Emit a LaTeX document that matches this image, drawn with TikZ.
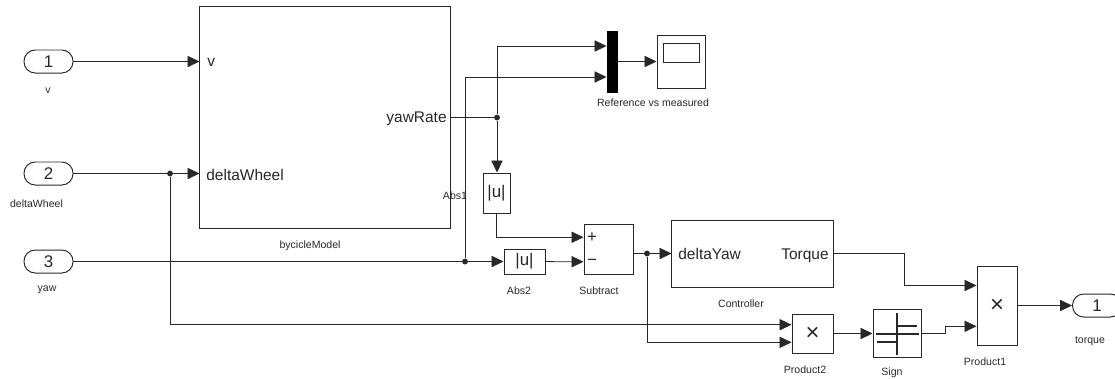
\documentclass[tikz,border=0pt]{standalone}
\usepackage{fontspec}
\setmainfont{Liberation Sans}
\usetikzlibrary{arrows.meta,positioning,calc}
\definecolor{ink}{RGB}{40,40,40}
\newcommand{\lblfont}{\fontsize{7.5}{9}\selectfont}
\newcommand{\portfont}{\fontsize{11}{12}\selectfont}
\newcommand{\absfont}{\fontsize{12}{12}\selectfont}
\newcommand{\mulfont}{\fontsize{17}{17}\selectfont}
\tikzset{
  flow/.style={>={Triangle[length=8.5pt,width=8pt]},line width=0.55pt,color=ink},
  blk/.style={draw=ink,line width=0.7pt,fill=white,inner sep=0pt},
  ioport/.style={draw=ink,line width=0.7pt,rounded corners=2.8mm,minimum width=1.225cm,
    minimum height=0.575cm,inner sep=0pt,font=\fontsize{12}{12}\selectfont},
  lbl/.style={font=\lblfont,inner sep=0pt},
  portlbl/.style={font=\portfont,inner sep=0pt},
  jct/.style={circle,fill=ink,inner sep=0pt,minimum size=4.2pt},
  icon/.style={line width=1pt,draw=ink},
}

\begin{document}
\begin{tikzpicture}[flow,x=0.025cm,y=-0.025cm]
\useasboundingbox (0,0) rectangle (1115,378);
% ports
\node[ioport] (in1) at (48.5,61.5) {1};
\node[ioport] (in2) at (48.5,173.5) {2};
\node[ioport] (in3) at (48.5,261.5) {3};
\node[ioport] (out1) at (1097,305.5) {1};
% blocks
\node[blk,minimum width=6.25cm,minimum height=5.525cm] (bm) at (325,117.5) {};
\node[blk,draw=black,fill=black,minimum width=0.25cm,minimum height=1.525cm] (mux) at (612,61.5) {};
\node[blk,minimum width=1.2cm,minimum height=1.325cm] (scope) at (681,61.5) {};
\node[blk,minimum width=0.9cm,minimum height=0.475cm] (scr) at (681,52.5) {};
\node[blk,minimum width=0.675cm,minimum height=1cm,font=\absfont] (abs1) at (496.5,193) {|u|};
\node[blk,minimum width=1.025cm,minimum height=0.625cm,font=\absfont] (abs2) at (524.5,261.5) {|u|};
\node[blk,minimum width=1.225cm,minimum height=1.25cm] (sub) at (608.5,249) {};
\node[blk,minimum width=4.025cm,minimum height=1.675cm] (ctrl) at (752.5,253.5) {};
\node[blk,minimum width=1.025cm,minimum height=0.975cm,font=\mulfont] (p2) at (812.5,333.5) {×};
\node[blk,minimum width=1.2cm,minimum height=1.2cm] (sign) at (897,333.5) {};
\node[blk,minimum width=1cm,minimum height=1.975cm,font=\mulfont] (p1) at (997,305.5) {×};
% port texts
\node[portlbl,anchor=base west] (t-v) at (207,66) {v};
\node[portlbl,anchor=base west] (t-dw) at (206,180) {deltaWheel};
\node[portlbl,anchor=base east] (t-yr) at (447,122) {yawRate};
\node[portlbl,anchor=base west] (t-dy) at (678,259) {deltaYaw};
\node[portlbl,anchor=base east] (t-tq) at (829,259) {Torque};
\node[inner sep=0pt,font=\fontsize{12}{12}\selectfont] (t-plus) at (592,237.5) {+};
\node[inner sep=0pt,font=\fontsize{12}{12}\selectfont] (t-minus) at (592,262) {−};
% block names
\foreach \n/\x/\y/\t in {l-in1/48/93/v, l-in2/36.5/207/deltaWheel, l-in3/47/291/yaw,
    l-bm/310/248/bycicleModel, l-scope/653/106/Reference vs measured, l-abs1/455/199/Abs1,
    l-abs2/519/294/Abs2, l-sub/599/294/Subtract, l-ctrl/741/307/Controller,
    l-p2/805/373/Product2, l-sign/892/375/Sign, l-p1/985/365/Product1, l-out/1090/343/torque}
  \node[lbl,anchor=base] (\n) at (\x,\y) {\t};
% sign icon
\draw[icon] ($(sign)+(0,-20.5)$) -- ($(sign)+(0,21.5)$);
\draw[icon] ($(sign)+(0,-7.5)$) -- ($(sign)+(20,-7.5)$);
\draw[icon] ($(sign)+(-21,0.5)$) -- ($(sign)+(22,0.5)$);
\draw[icon] ($(sign)+(-20,8.5)$) -- ($(sign)+(0,8.5)$);
% input points
\coordinate (mux-a) at ($(mux.north west)!0.25!(mux.south west)$);
\coordinate (mux-b) at ($(mux.north west)!0.75!(mux.south west)$);
\coordinate (sub-a) at ($(sub.north west)!0.27!(sub.south west)$);
\coordinate (sub-b) at ($(sub.north west)!0.75!(sub.south west)$);
\coordinate (p2-a) at ($(p2.north west)!0.28!(p2.south west)$);
\coordinate (p2-b) at ($(p2.north west)!0.72!(p2.south west)$);
\coordinate (p1-a) at ($(p1.north west)!0.25!(p1.south west)$);
\coordinate (p1-b) at ($(p1.north west)!0.76!(p1.south west)$);
% junctions
\node[jct] (j1) at (170,173.5) {};
\node[jct] (j2) at (497,117.5) {};
\node[jct] (j3) at (465,261.5) {};
\node[jct] (j4) at (647,253.5) {};
% wires
\draw[->] (in1) -- (in1 -| bm.west);
\draw (in2) -- (j1);
\draw[->] (j1) -- (j1 -| bm.west);
\draw[->] (j1) |- (p2-a);
\draw (in3) -- (j3);
\draw[->] (j3) -- (j3 -| abs2.west);
\draw[->] (j3) |- (mux-b);
\draw (bm.east) -- (j2);
\draw[->] (j2) |- (mux-a);
\draw[->] (j2) -- (j2 |- abs1.north);
\draw[->] (abs1) |- (sub-a);
\draw[->] (abs2) -- (sub-b);
\draw (sub.east |- j4) -- (j4);
\draw[->] (j4) -- (ctrl);
\draw[->] (j4) |- (p2-b);
\draw[->] (ctrl.east) -- ++(71,0) |- (p1-a);
\draw[->] (p2) -- (sign);
\draw[->] (sign.east) -- ++(24,0) |- (p1-b);
\draw[->] (p1) -- (out1);
\draw[->] (mux) -- (scope);
\end{tikzpicture}
\end{document}
